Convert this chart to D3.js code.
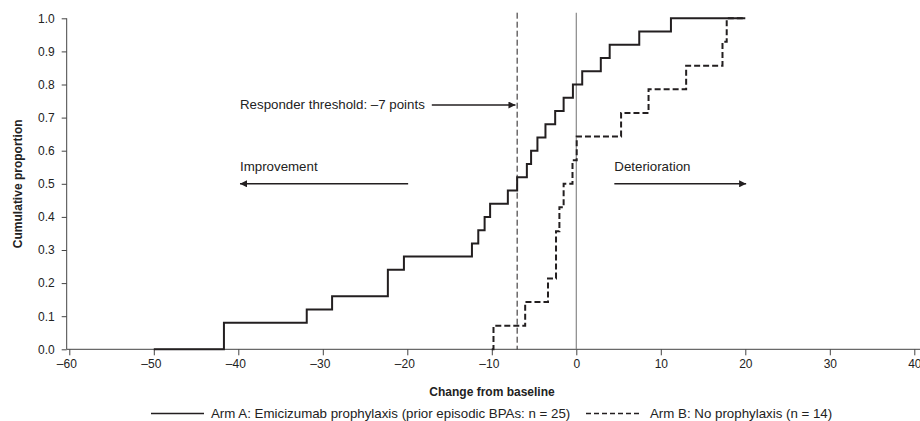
<!DOCTYPE html>
<html>
<head>
<meta charset="utf-8">
<title>Cumulative proportion by change from baseline</title>
<script src="https://d3js.org/d3.v7.min.js"></script>
<style>
  body { margin: 0; background: #fff; }
  svg text { font-family: "Liberation Sans", Arial, sans-serif; fill: #222; }
</style>
</head>
<body>
<div id="chart"></div>
<script>
// Arm A: emicizumab prophylaxis (n = 25), step positions and cumulative proportion
var armA_x = [-50, -41.7, -31.9, -28.9, -22.3, -20.4, -12.35, -11.6, -10.85, -10.2, -8.1, -7.0,
              -5.85, -5.35, -4.6, -3.65, -2.5, -1.5, -0.4, 0.7, 2.9, 3.95, 7.45, 11.2, 20];
var armA_y = [0, 0.08, 0.12, 0.16, 0.24, 0.28, 0.32, 0.36, 0.40, 0.44, 0.48, 0.52,
              0.56, 0.60, 0.64, 0.68, 0.72, 0.76, 0.80, 0.84, 0.88, 0.92, 0.96, 1.0, 1.0];

// Arm B: no prophylaxis (n = 14)
var armB_x = [-10.0, -9.8, -6.05, -3.35, -2.4, -2.0, -1.5, -0.45, 0.05, 5.3, 8.55, 13.0, 17.3, 17.8, 19.8];
var armB_y = [0, 0.071, 0.143, 0.214, 0.357, 0.429, 0.5, 0.571, 0.643, 0.714, 0.786, 0.857, 0.929, 1.0, 1.0];

var xTicks = [-60, -50, -40, -30, -20, -10, 0, 10, 20, 30, 40];
var yTicks = [0, 0.1, 0.2, 0.3, 0.4, 0.5, 0.6, 0.7, 0.8, 0.9, 1.0];

var threshold = -7;
var legendLabels = ["Arm A: Emicizumab prophylaxis (prior episodic BPAs: n = 25)",
                    "Arm B: No prophylaxis (n = 14)"];

var width = 920, height = 421;
var noteSize = 13.3;

var svg = d3.select("#chart").append("svg")
  .attr("width", width)
  .attr("height", height);

var x = d3.scaleLinear().domain([-60, 40]).range([69.3, 914.3]);
var y = d3.scaleLinear().domain([0, 1]).range([349.3, 18.3]);

var ink = "#231f20";

// arrow marker
svg.append("defs").append("marker")
  .attr("id", "arrow")
  .attr("viewBox", "0 0 10 10")
  .attr("refX", 10).attr("refY", 5)
  .attr("markerWidth", 12).attr("markerHeight", 7)
  .attr("markerUnits", "userSpaceOnUse")
  .attr("orient", "auto")
  .append("path")
    .attr("d", "M0,0 L10,5 L0,10 Z")
    .attr("fill", ink);

// x axis
var xAxis = svg.append("g")
  .attr("transform", "translate(0," + y(0) + ")")
  .call(d3.axisBottom(x).tickValues(xTicks).tickSize(6).tickPadding(4)
        .tickFormat(function(d) { return d < 0 ? "\u2013" + Math.abs(d) : d; }));
xAxis.select(".domain").remove();
xAxis.selectAll(".tick line").attr("stroke", "#444");
xAxis.selectAll(".tick text")
  .attr("font-size", 12)
  .attr("dx", function(d) { return d < 0 ? -3 : 0; });
xAxis.append("line")
  .attr("x1", 66.7).attr("x2", width)
  .attr("stroke", "#444");

// y axis
var yAxis = svg.append("g")
  .attr("transform", "translate(66.7,0)")
  .call(d3.axisLeft(y).tickValues(yTicks).tickSize(5).tickPadding(7)
        .tickFormat(d3.format(".1f")));
yAxis.select(".domain").remove();
yAxis.selectAll(".tick line").attr("stroke", "#444");
yAxis.selectAll(".tick text").attr("font-size", 12);
yAxis.append("line")
  .attr("y1", y(1)).attr("y2", y(0))
  .attr("stroke", "#444");

// axis titles
svg.append("text")
  .attr("transform", "translate(22," + y(0.5) + ") rotate(-90)")
  .attr("text-anchor", "middle")
  .attr("font-size", 12)
  .attr("font-weight", "bold")
  .text("Cumulative proportion");

svg.append("text")
  .attr("x", 492).attr("y", 395.5)
  .attr("text-anchor", "middle")
  .attr("font-size", 12)
  .attr("font-weight", "bold")
  .text("Change from baseline");

// reference lines
svg.append("line")
  .attr("x1", x(0)).attr("x2", x(0))
  .attr("y1", 12.7).attr("y2", y(0))
  .attr("stroke", "#888").attr("stroke-width", 1.2);

svg.append("line")
  .attr("x1", x(threshold)).attr("x2", x(threshold))
  .attr("y1", 12.7).attr("y2", y(0))
  .attr("stroke", ink).attr("stroke-width", 1)
  .attr("stroke-dasharray", "6,3");

// step curves
var step = d3.line()
  .x(function(d) { return x(d[0]); })
  .y(function(d) { return y(d[1]); })
  .curve(d3.curveStepAfter);

svg.append("path")
  .datum(d3.zip(armB_x, armB_y))
  .attr("d", step)
  .attr("fill", "none")
  .attr("stroke", ink).attr("stroke-width", 2)
  .attr("stroke-dasharray", "6,3");

svg.append("path")
  .datum(d3.zip(armA_x, armA_y))
  .attr("d", step)
  .attr("fill", "none")
  .attr("stroke", ink).attr("stroke-width", 2);

// annotations
svg.append("text")
  .attr("x", 240).attr("y", 109.2)
  .attr("font-size", noteSize)
  .text("Responder threshold: \u20137 points");
svg.append("line")
  .attr("x1", x(-17.1)).attr("x2", x(-7.2))
  .attr("y1", y(0.738)).attr("y2", y(0.738))
  .attr("stroke", ink).attr("stroke-width", 1.6)
  .attr("marker-end", "url(#arrow)");

svg.append("text")
  .attr("x", 240).attr("y", 170.5)
  .attr("font-size", noteSize)
  .text("Improvement");
svg.append("line")
  .attr("x1", x(-19.9)).attr("x2", x(-39.8))
  .attr("y1", y(0.5)).attr("y2", y(0.5))
  .attr("stroke", ink).attr("stroke-width", 1.6)
  .attr("marker-end", "url(#arrow)");

svg.append("text")
  .attr("x", x(4.5)).attr("y", 170.5)
  .attr("font-size", noteSize)
  .text("Deterioration");
svg.append("line")
  .attr("x1", x(4.5)).attr("x2", x(20.1))
  .attr("y1", y(0.5)).attr("y2", y(0.5))
  .attr("stroke", ink).attr("stroke-width", 1.6)
  .attr("marker-end", "url(#arrow)");

// legend
var legend = svg.append("g");
legend.append("line")
  .attr("x1", 151).attr("x2", 204).attr("y1", 413.5).attr("y2", 413.5)
  .attr("stroke", ink).attr("stroke-width", 1.6);
legend.append("text")
  .attr("x", 211).attr("y", 417.5)
  .attr("font-size", noteSize)
  .text(legendLabels[0]);
legend.append("line")
  .attr("x1", 586).attr("x2", 642).attr("y1", 413.5).attr("y2", 413.5)
  .attr("stroke", ink).attr("stroke-width", 1.6)
  .attr("stroke-dasharray", "5,3");
legend.append("text")
  .attr("x", 650).attr("y", 417.5)
  .attr("font-size", noteSize)
  .text(legendLabels[1]);
</script>
</body>
</html>
